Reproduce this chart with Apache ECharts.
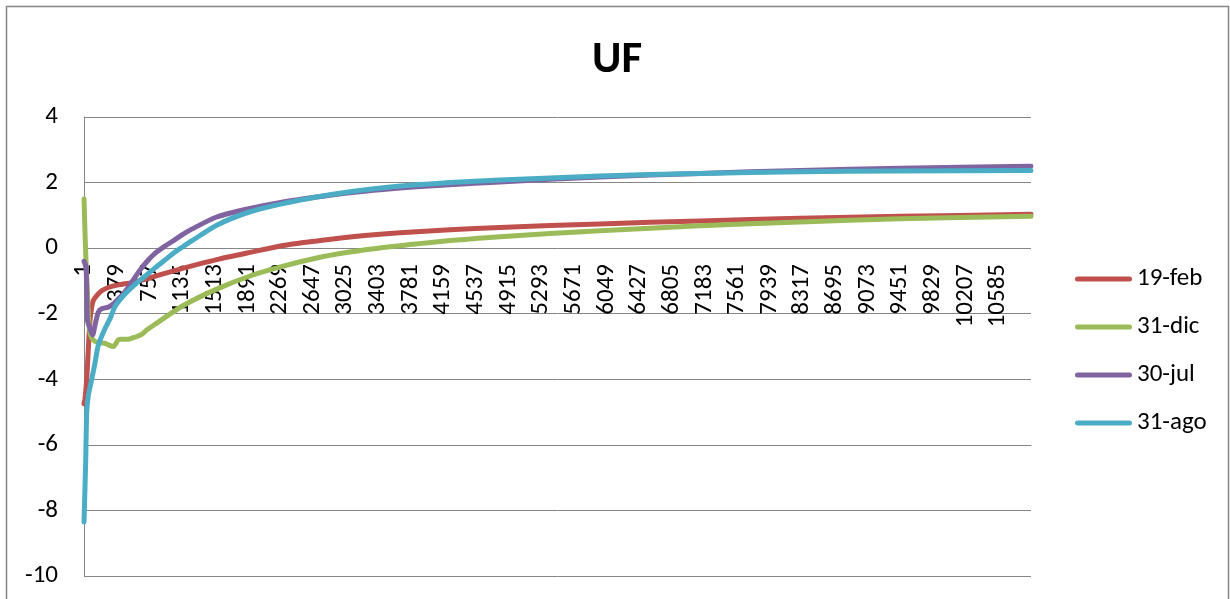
<!DOCTYPE html>
<html>
<head>
<meta charset="utf-8">
<script src="https://cdn.jsdelivr.net/npm/echarts@6/dist/echarts.min.js"></script>
<style>
html,body{margin:0;padding:0;background:#fff;}
#chart{width:1230px;height:599px;}
</style>
</head>
<body>
<div id="chart"></div>
<script>
// ---- data ----
var title = 'UF';
var seriesNames = ['19-feb', '31-dic', '30-jul', '31-ago'];
var categoryCount = 10966;
var tickLabels = [1, 379, 757, 1135, 1513, 1891, 2269, 2647, 3025, 3403, 3781, 4159, 4537, 4915,
  5293, 5671, 6049, 6427, 6805, 7183, 7561, 7939, 8317, 8695, 9073, 9451, 9829, 10207, 10585];
var yTicks = [-10, -8, -6, -4, -2, 0, 2, 4];

// [category number, value]
var feb19 = [[1,-4.75],[12,-4.6],[32,-4.0],[50,-3.1],[70,-2.2],[90,-1.8],[108,-1.6],[148,-1.45],
  [205,-1.3],[282,-1.2],[398,-1.12],[553,-1.05],[745,-0.92],[938,-0.77],[1208,-0.57],[1537,-0.35],
  [1923,-0.13],[2308,0.08],[2695,0.22],[3080,0.34],[3466,0.43],[3853,0.5],[4238,0.56],[4817,0.63],
  [5975,0.74],[7133,0.83],[8291,0.91],[9449,0.97],[10966,1.03]];

var dic31 = [[1,1.5],[12,0.5],[25,-0.5],[43,-1.5],[55,-2.2],[75,-2.65],[108,-2.8],[166,-2.88],
  [244,-2.9],[282,-2.95],[340,-3.0],[360,-2.95],[398,-2.8],[437,-2.78],[513,-2.78],[553,-2.75],
  [669,-2.63],[726,-2.5],[823,-2.32],[1150,-1.75],[1537,-1.25],[1923,-0.85],[2308,-0.55],[2695,-0.3],
  [3080,-0.12],[3466,0.02],[3853,0.13],[4238,0.23],[4817,0.35],[5975,0.53],[7133,0.68],[8291,0.8],
  [9449,0.9],[10966,0.97]];

var jul30 = [[1,-0.4],[25,-0.6],[40,-2.2],[70,-2.45],[100,-2.65],[128,-2.35],[166,-1.95],[205,-1.85],
  [282,-1.8],[340,-1.7],[398,-1.55],[437,-1.45],[513,-1.2],[591,-0.89],[669,-0.6],[745,-0.36],
  [823,-0.16],[938,0.06],[1054,0.26],[1150,0.43],[1248,0.58],[1537,0.95],[1923,1.21],[2308,1.41],
  [2695,1.56],[3080,1.69],[3466,1.79],[3853,1.87],[4238,1.93],[4817,2.02],[5975,2.17],[7133,2.28],
  [8291,2.37],[9449,2.44],[10966,2.5]];

var ago31 = [[1,-8.35],[20,-6.5],[32,-5.0],[50,-4.5],[90,-4.0],[128,-3.5],[166,-2.96],[244,-2.45],
  [302,-2.15],[360,-1.78],[475,-1.4],[629,-1.02],[726,-0.82],[823,-0.6],[958,-0.32],
  [1054,-0.12],[1150,0.05],[1248,0.22],[1537,0.7],[1923,1.11],[2308,1.36],[2695,1.56],[3080,1.72],
  [3466,1.84],[3853,1.93],[4238,2.0],[4817,2.08],[5975,2.2],[7133,2.28],[8291,2.33],[9449,2.35],
  [10966,2.37]];

var colors = ['#C0504D', '#9BBB59', '#8064A2', '#4BACC6'];
var seriesData = [feb19, dic31, jul30, ago31];

// ---- chart ----
var FONT = 'Carlito, Calibri, Lato, sans-serif';
var GRAY = '#868686';
var chart = echarts.init(document.getElementById('chart'), null, {renderer: 'canvas'});

var legendIcon = 'path://M0,0 M57,25 M2.5,10 L54.5,10 A2.5,2.5 0 0 1 54.5,15 L2.5,15 A2.5,2.5 0 0 1 2.5,10 Z';

var option = {
  animation: false,
  backgroundColor: '#fff',
  color: colors,
  title: {
    text: title,
    left: 587,
    top: 33,
    textStyle: {fontFamily: FONT, fontSize: 45, fontWeight: 'bold', color: '#000'}
  },
  graphic: [{
    type: 'rect',
    z: -10,
    shape: {x: 6.5, y: 6.5, width: 1222, height: 600},
    style: {fill: 'none', stroke: GRAY, lineWidth: 1.5}
  }],
  legend: {
    orient: 'vertical',
    left: 1070,
    top: 261.5,
    itemWidth: 57,
    itemHeight: 25,
    itemGap: 23,
    icon: legendIcon,
    textStyle: {fontFamily: FONT, fontSize: 25, color: '#000'},
    data: seriesNames
  },
  grid: {left: 84, right: 199, top: 117, bottom: 23, containLabel: false, outerBoundsMode: 'none'},
  xAxis: {
    type: 'value',
    min: 0.5,
    max: categoryCount + 0.5,
    offset: -328,
    axisLine: {show: true, onZero: true, onZeroAxisIndex: 0, lineStyle: {color: GRAY, width: 1}},
    axisTick: {show: false},
    splitLine: {show: false},
    axisLabel: {
      customValues: tickLabels,
      rotate: 90,
      margin: 16,
      fontFamily: FONT,
      fontSize: 25,
      color: '#000',
      formatter: function (v) { return String(v); }
    }
  },
  yAxis: {
    type: 'value',
    min: yTicks[0],
    max: yTicks[yTicks.length - 1],
    interval: 2,
    axisLine: {show: true, onZero: false, lineStyle: {color: GRAY, width: 1}},
    axisTick: {show: false},
    splitLine: {show: true, lineStyle: {color: GRAY, width: 1}},
    axisLabel: {margin: 26, fontFamily: FONT, fontSize: 25, color: '#000'}
  },
  series: seriesNames.map(function (name, i) {
    return {
      name: name,
      type: 'line',
      data: seriesData[i],
      showSymbol: false,
      symbol: 'none',
      smooth: 0.25,
      lineStyle: {width: 5, color: colors[i], cap: 'round', join: 'round'},
      itemStyle: {color: colors[i]}
    };
  })
};
chart.setOption(option);
</script>
</body>
</html>
